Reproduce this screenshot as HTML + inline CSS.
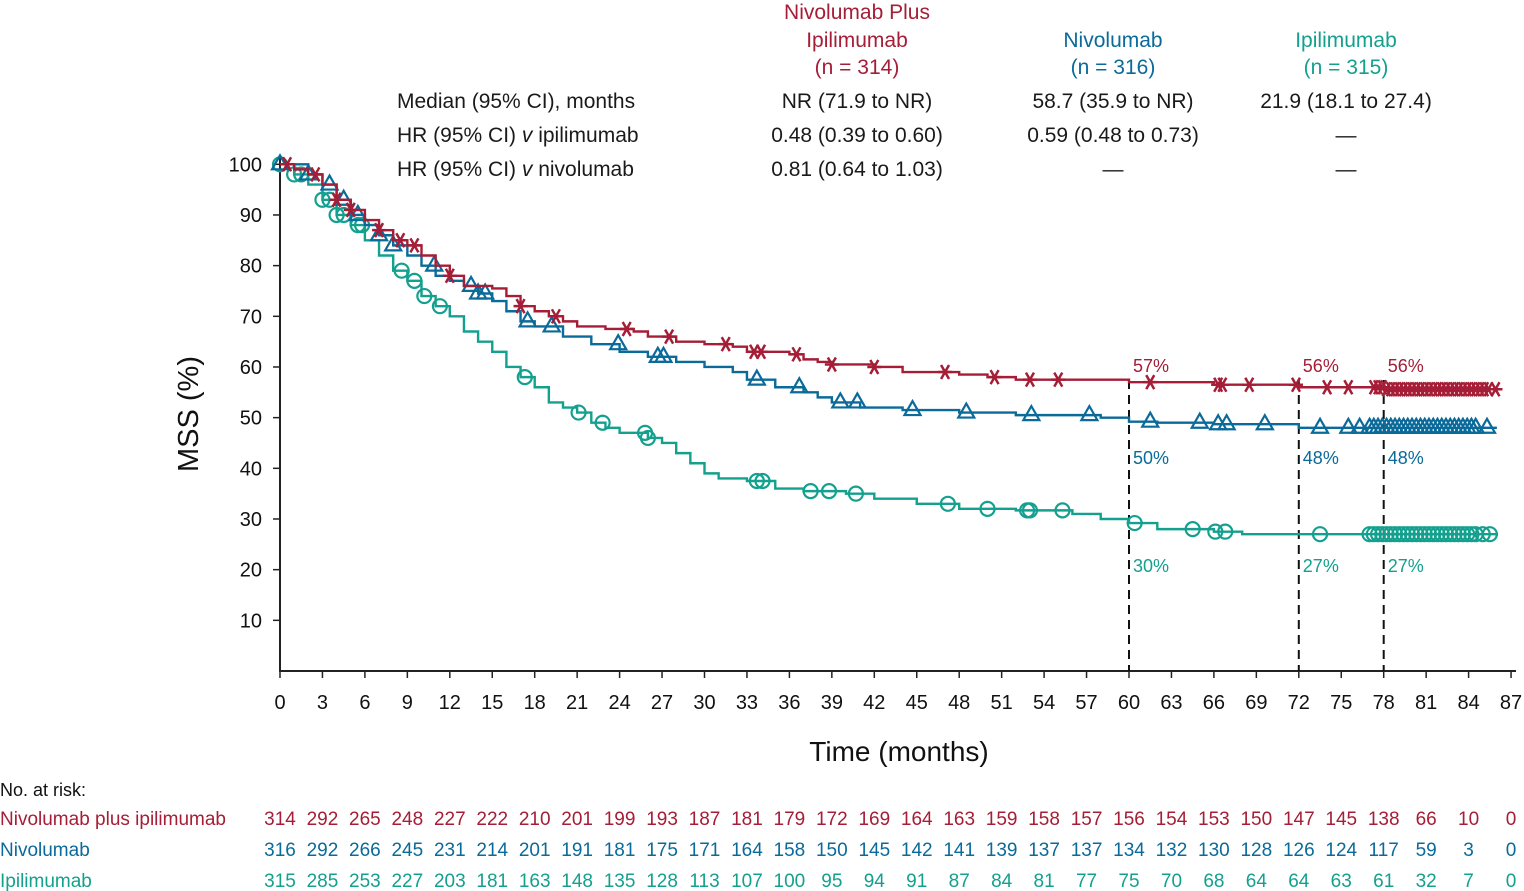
<!DOCTYPE html>
<html><head><meta charset="utf-8"><style>
html,body{margin:0;padding:0;background:#fff;}
svg{display:block;font-family:"Liberation Sans",sans-serif;}
</style></head><body>
<svg id="chart" width="1524" height="891" viewBox="0 0 1524 891" xmlns="http://www.w3.org/2000/svg">
<g id="header" font-size="21" fill="#1a1a1a">
<text x="857" y="19" text-anchor="middle" fill="#a51d36">Nivolumab Plus</text>
<text x="857" y="47" text-anchor="middle" fill="#a51d36">Ipilimumab</text>
<text x="857" y="74" text-anchor="middle" fill="#a51d36">(n = 314)</text>
<text x="1113" y="47" text-anchor="middle" fill="#0a6a9a">Nivolumab</text>
<text x="1113" y="74" text-anchor="middle" fill="#0a6a9a">(n = 316)</text>
<text x="1346" y="47" text-anchor="middle" fill="#14a08e">Ipilimumab</text>
<text x="1346" y="74" text-anchor="middle" fill="#14a08e">(n = 315)</text>
<text x="397" y="108">Median (95% CI), months</text>
<text x="397" y="142">HR (95% CI) <tspan font-style="italic">v</tspan> ipilimumab</text>
<text x="397" y="176">HR (95% CI) <tspan font-style="italic">v</tspan> nivolumab</text>
<text x="857" y="108" text-anchor="middle">NR (71.9 to NR)</text>
<text x="1113" y="108" text-anchor="middle">58.7 (35.9 to NR)</text>
<text x="1346" y="108" text-anchor="middle">21.9 (18.1 to 27.4)</text>
<text x="857" y="142" text-anchor="middle">0.48 (0.39 to 0.60)</text>
<text x="1113" y="142" text-anchor="middle">0.59 (0.48 to 0.73)</text>
<text x="1346" y="142" text-anchor="middle">—</text>
<text x="857" y="176" text-anchor="middle">0.81 (0.64 to 1.03)</text>
<text x="1113" y="176" text-anchor="middle">—</text>
<text x="1346" y="176" text-anchor="middle">—</text>
</g>
<g id="axes"></g>
<g id="plot"></g>
<g id="risk"></g>
</svg>
<script>
const xTicks=[0,3,6,9,12,15,18,21,24,27,30,33,36,39,42,45,48,51,54,57,60,63,66,69,72,75,78,81,84,87];
const yTicks=[10,20,30,40,50,60,70,80,90,100];
const redT=[0,1,2,3,4,5,6,7,8,9,10,11,12,13,15,16,17,18,19,20,21,23,25,26,28,30,32,33,36,37,38,39,42,44,48,50,52,58,60,66,72,78,86];
const redV=[100,99,98,96,93,91,89,87,85,84,82,80,78,76,75.5,74,72,71,70,69,68,67.5,67,66,65,64.5,64,63,62.5,61.5,61,60.5,60,59,58.5,58,57.5,57.5,57,56.5,56,55.6,55.6];
const bluT=[0,2,3,4,5,6,7,8,9,10,11,12,13,14,15,16,17,18,20,22,24,26,28,30,32,33,35,37,38,39,41,44,48,52,58,60,62,66,72,86];
const bluV=[100,98,96,93,90,88,86,84,82,80,78,77,76,74.5,73,71,69,68,66,64.5,63,62,61,60,59,57.5,56,55,54,53,52,51.5,51,50.5,50,49.2,49,48.7,48,48];
const tealT=[0,1,2,3,4,5,6,7,8,9,10,11,12,13,14,15,16,17,18,19,20,21,22,23,24,26,27,28,29,30,31,33,35,37,40,42,45,48,52,56,58,60,62,66,68,86];
const tealV=[100,98,96,93,90,88,85,82,79,77,74,72,70,67,65,63,60,58,56,53,52,51,49,48,47,46,45,43,41,39,38,37.5,36,35.5,35,34,33,32,31.7,31,30,29.2,28,27.5,27,26.7];
const redCens=[0.5,2.5,4,5,7,8.5,9.5,12,17,19.5,24.5,27.5,31.5,33.5,34,36.5,39,42,47,50.5,53,55,61.5,66.3,66.6,68.5,71.8,74,75.5,77.3,77.6,77.9,78.2,78.5,78.8,79.1,79.4,79.7,80,80.3,80.6,80.9,81.2,81.5,81.8,82.1,82.4,82.7,83,83.3,83.6,83.9,84.2,84.5,84.8,85.1,85.4,85.9];
const bluCens=[0,2,3.5,4.5,5.5,7,8,10.9,13.5,14,14.5,17.5,19.2,23.9,26.7,27.1,33.7,36.7,39.6,40.8,44.7,48.5,53.1,57.2,61.5,65,66.3,66.9,69.6,73.5,75.5,76.3,77,77.3,77.6,77.9,78.2,78.5,78.8,79.1,79.4,79.7,80,80.3,80.6,80.9,81.2,81.5,81.8,82.1,82.4,82.7,83,83.3,83.6,83.9,84.2,84.5,85.3];
const tealCens=[0,1,1.5,3,3.5,4,4.5,5.5,5.8,8.6,9.5,10.2,11.3,17.3,21.1,22.8,25.8,26,33.7,34.1,37.5,38.8,40.7,47.2,50,52.8,53,55.3,60.4,64.5,66.1,66.8,73.5,77,77.3,77.6,77.9,78.2,78.5,78.8,79.1,79.4,79.7,80,80.3,80.6,80.9,81.2,81.5,81.8,82.1,82.4,82.7,83,83.3,83.6,83.9,84.2,84.5,85,85.5];
const landmarkT=[60,72,78];
const redLm=["57%","56%","56%"], bluLm=["50%","48%","48%"], tealLm=["30%","27%","27%"];
const riskRed=[314,292,265,248,227,222,210,201,199,193,187,181,179,172,169,164,163,159,158,157,156,154,153,150,147,145,138,66,10,0];
const riskBlu=[316,292,266,245,231,214,201,191,181,175,171,164,158,150,145,142,141,139,137,137,134,132,130,128,126,124,117,59,3,0];
const riskTeal=[315,285,253,227,203,181,163,148,135,128,113,107,100,95,94,91,87,84,81,77,75,70,68,64,64,63,61,32,7,0];

const RED="#a51d36",BLU="#0a6a9a",TEAL="#14a08e";
const X=m=>280+m*14.15;
const Y=v=>671-v*5.067;
const NS="http://www.w3.org/2000/svg";
function mk(tag,attrs,parent){const e=document.createElementNS(NS,tag);for(const k in attrs)e.setAttribute(k,attrs[k]);parent.appendChild(e);return e;}
const axes=document.getElementById('axes'),plot=document.getElementById('plot'),risk=document.getElementById('risk');

let a=mk('line',{x1:280,y1:155,x2:280,y2:672,stroke:'#222','stroke-width':2},axes);


a=mk('line',{x1:279,y1:671,x2:1516,y2:671,stroke:'#222','stroke-width':2},axes);


yTicks.forEach(v=>{
 mk('line',{x1:273,y1:Y(v),x2:280,y2:Y(v),stroke:'#222','stroke-width':1.5},axes);
 const t=mk('text',{x:262,y:Y(v)+7,'text-anchor':'end','font-size':20,fill:'#111'},axes);
 t.textContent=v;
 
 
});
xTicks.forEach(m=>{
 mk('line',{x1:X(m),y1:671,x2:X(m),y2:678,stroke:'#222','stroke-width':1.5},axes);
 const t=mk('text',{x:X(m),y:709,'text-anchor':'middle','font-size':20,fill:'#111'},axes);
 t.textContent=m;
 
 
});
let tt=mk('text',{x:899,y:761,'text-anchor':'middle','font-size':28,fill:'#111'},axes);
tt.textContent='Time (months)';


tt=mk('text',{x:0,y:0,'text-anchor':'middle','font-size':29,fill:'#111',transform:'translate(198,414) rotate(-90)'},axes);
tt.textContent='MSS (%)';



landmarkT.forEach((m,i)=>{
 const l=mk('line',{x1:X(m),y1:380,x2:X(m),y2:671,stroke:'#111','stroke-width':2,'stroke-dasharray':'9,6'},plot);
 
 
 [[redLm,RED,372],[bluLm,BLU,464],[tealLm,TEAL,572]].forEach(([arr,c,y])=>{
  const t=mk('text',{x:X(m)+4,y:y,'font-size':18,fill:c},plot);
  t.textContent=arr[i];
  
  
 });
});

function stepPath(T,V){
 let d='M'+X(T[0])+' '+Y(V[0]);
 for(let i=1;i<T.length;i++){d+=' H'+X(T[i])+' V'+Y(V[i]);}
 return d;
}
function valAt(T,V,t){let v=V[0];for(let i=0;i<T.length;i++){if(T[i]<=t)v=V[i];}return v;}
function marker(kind,x,y,c,g){
 let e;
 if(kind==='star'){
  e=mk('path',{d:`M${x-7} ${y}H${x+7}M${x-4} ${y-7}L${x+4} ${y+7}M${x+4} ${y-7}L${x-4} ${y+7}`,stroke:c,'stroke-width':2.5,fill:'none'},g);
 }else if(kind==='tri'){
  e=mk('path',{d:`M${x} ${y-9}L${x+8} ${y+5}L${x-8} ${y+5}Z`,stroke:c,'stroke-width':2.2,fill:'none'},g);
 }else{
  e=mk('circle',{cx:x,cy:y,r:7,stroke:c,'stroke-width':2.2,fill:'none'},g);
 }
 
 
}
[[tealT,tealV,tealCens,TEAL,'circ','ipilimumab'],[bluT,bluV,bluCens,BLU,'tri','nivolumab'],[redT,redV,redCens,RED,'star','nivo-plus-ipi']].forEach(([T,V,C,c,k,n])=>{
 const g=mk('g',{},plot);
 
 
 const p=mk('path',{d:stepPath(T,V),stroke:c,'stroke-width':2.4,fill:'none'},g);
 
 
 C.forEach(t=>marker(k,X(t),Y(valAt(T,V,t)),c,g));
});

let h=mk('text',{x:0,y:796,'font-size':18,fill:'#111'},risk);
h.textContent='No. at risk:';


[['Nivolumab plus ipilimumab',riskRed,RED,825],['Nivolumab',riskBlu,BLU,856],['Ipilimumab',riskTeal,TEAL,887]].forEach(([lab,arr,c,y])=>{
 const t=mk('text',{x:0,y:y,'font-size':19,fill:c},risk);
 t.textContent=lab;
 
 
 arr.forEach((v,i)=>{
  const n=mk('text',{x:X(xTicks[i]),y:y,'font-size':19,fill:c,'text-anchor':'middle'},risk);
  n.textContent=v;
  
  
 });
});
</script>
</body></html>
